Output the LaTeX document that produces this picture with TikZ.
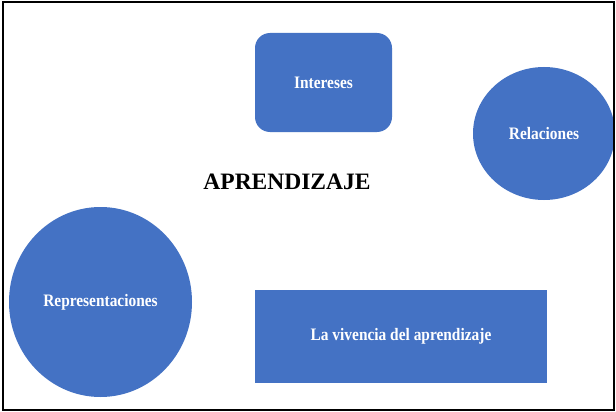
\documentclass[tikz,border=0pt]{standalone}
\usepackage{fontspec}
\setmainfont{Liberation Serif}
\usetikzlibrary{shapes.geometric}
\definecolor{offblue}{HTML}{4472C4}
\newcommand{\condtext}[1]{\scalebox{0.88}[1]{#1}}
\tikzset{
  shapefill/.style={fill=offblue, draw=none, text=white, font=\bfseries\fontsize{17.5}{20}\selectfont, inner sep=0pt},
  roundbox/.style={shapefill, rectangle, rounded corners=15pt},
  flatbox/.style={shapefill, rectangle},
  oval/.style={shapefill, ellipse},
}
\begin{document}
\begin{tikzpicture}[x=1pt,y=-1pt]
\useasboundingbox (0,0) rectangle (616,412);
\fill[white] (0,0) rectangle (616,412);
% Intereses
\node[roundbox, minimum width=137pt, minimum height=99pt] (int) at (323.5,82.5) {\condtext{Intereses}};
% Relaciones (clipped by frame)
\begin{scope}
\clip (3,2) rectangle (614,410);
\node[oval, minimum width=142pt, minimum height=133pt] (rel) at (544,133.5) {\condtext{Relaciones}};
\end{scope}
% Representaciones
\node[oval, minimum width=183pt, minimum height=190pt] (rep) at (100.5,302) {\condtext{Representaciones}};
% La vivencia del aprendizaje
\node[flatbox, minimum width=292pt, minimum height=93pt] (viv) at (401,336.5) {\condtext{La vivencia del aprendizaje}};
% Title
\node[font=\bfseries\fontsize{23.5}{28}\selectfont, inner sep=0pt, anchor=base] (title) at (287,189) {APRENDIZAJE};
% Frame
\draw[black, line width=2pt] (3,2.5) rectangle (614,410);
\end{tikzpicture}
\end{document}
